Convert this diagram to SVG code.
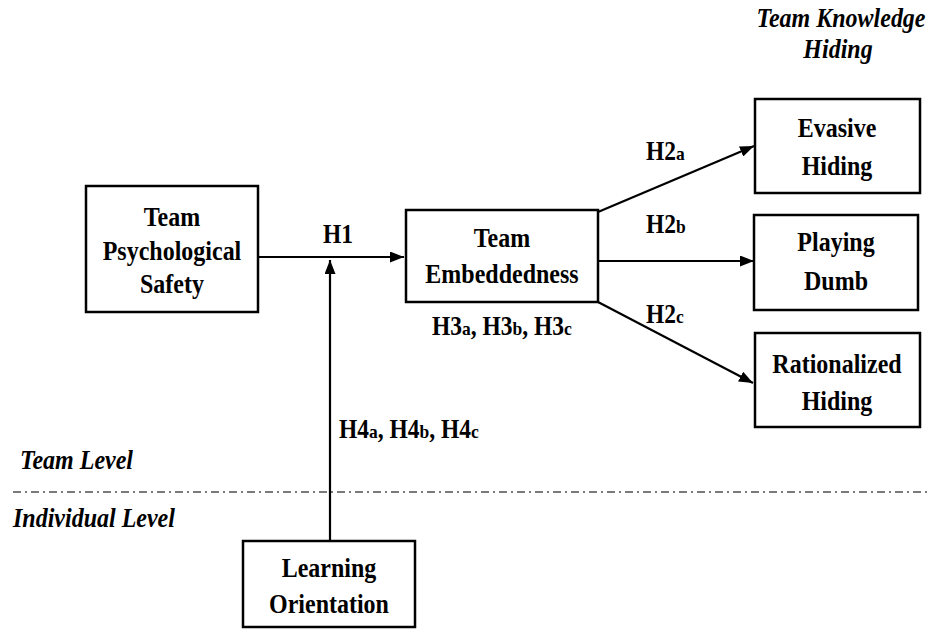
<svg xmlns="http://www.w3.org/2000/svg" width="928" height="636" viewBox="0 0 928 636">
<style>
.box{fill:#fff;stroke:#000;stroke-width:2.5}
.t{font-family:"Liberation Serif","Times New Roman",serif;font-weight:bold;font-size:24px;text-anchor:middle;fill:#000}
.lbl{font-family:"Liberation Serif","Times New Roman",serif;font-weight:bold;font-size:23.5px;fill:#000}
.it{font-family:"Liberation Serif","Times New Roman",serif;font-weight:bold;font-style:italic;font-size:24px;fill:#000}
.sub{font-size:17.5px}
.c{stroke:#000;stroke-width:2.2;fill:none}
</style>
<defs>
<marker id="ah" viewBox="0 0 14 11" refX="14" refY="5.5" markerWidth="14" markerHeight="11" markerUnits="userSpaceOnUse" orient="auto">
<path d="M0,0 L14,5.5 L0,11 z" fill="#000"/>
</marker>
</defs>
<rect width="928" height="636" fill="#fff"/>

<g id="levels">
<line x1="13" y1="492" x2="928" y2="492" stroke="#7a7a7a" stroke-width="2" stroke-dasharray="8 4 2 4"/>
<text class="it" transform="translate(20,469) scale(1,1.12)">Team Level</text>
<text class="it" transform="translate(13,527) scale(1,1.12)">Individual Level</text>
<text class="it" text-anchor="middle" transform="translate(841,27) scale(1,1.12)">Team Knowledge</text>
<text class="it" text-anchor="middle" transform="translate(838,58) scale(1,1.12)">Hiding</text>
</g>

<g id="connectors">
<line class="c" x1="258" y1="257" x2="404" y2="257" marker-end="url(#ah)"/>
<line class="c" x1="330" y1="541" x2="330" y2="260" marker-end="url(#ah)"/>
<line class="c" x1="598" y1="212" x2="754" y2="146" marker-end="url(#ah)"/>
<line class="c" x1="598" y1="261" x2="754" y2="261" marker-end="url(#ah)"/>
<line class="c" x1="598" y1="302" x2="753" y2="383" marker-end="url(#ah)"/>
<text class="lbl" text-anchor="middle" transform="translate(338,243) scale(1,1.12)">H1</text>
<text class="lbl" transform="translate(646,160) scale(1,1.12)">H2<tspan class="sub">a</tspan></text>
<text class="lbl" transform="translate(646,233) scale(1,1.12)">H2<tspan class="sub">b</tspan></text>
<text class="lbl" transform="translate(646,323) scale(1,1.12)">H2<tspan class="sub">c</tspan></text>
<text class="lbl" transform="translate(432,335) scale(1,1.12)">H3<tspan class="sub">a</tspan>, H3<tspan class="sub">b</tspan>, H3<tspan class="sub">c</tspan></text>
<text class="lbl" transform="translate(339,438) scale(1,1.12)">H4<tspan class="sub">a</tspan>, H4<tspan class="sub">b</tspan>, H4<tspan class="sub">c</tspan></text>
</g>

<g id="psych-safety">
<rect class="box" x="86" y="186" width="172" height="126"/>
<text class="t" transform="translate(172,226) scale(1,1.12)">Team</text>
<text class="t" transform="translate(172,260) scale(1,1.12)">Psychological</text>
<text class="t" transform="translate(172,293) scale(1,1.12)">Safety</text>
</g>

<g id="embeddedness">
<rect class="box" x="406" y="210" width="192" height="92"/>
<text class="t" transform="translate(502,247) scale(1,1.12)">Team</text>
<text class="t" transform="translate(502,283) scale(1,1.12)">Embeddedness</text>
</g>

<g id="evasive">
<rect class="box" x="755" y="99" width="165" height="94"/>
<text class="t" transform="translate(837,137) scale(1,1.12)">Evasive</text>
<text class="t" transform="translate(837,175) scale(1,1.12)">Hiding</text>
</g>

<g id="playing-dumb">
<rect class="box" x="754" y="215" width="164" height="95"/>
<text class="t" transform="translate(836,251) scale(1,1.12)">Playing</text>
<text class="t" transform="translate(836,290) scale(1,1.12)">Dumb</text>
</g>

<g id="rationalized">
<rect class="box" x="755" y="333" width="165" height="94"/>
<text class="t" transform="translate(837,373) scale(1,1.12)">Rationalized</text>
<text class="t" transform="translate(837,410) scale(1,1.12)">Hiding</text>
</g>

<g id="learning">
<rect class="box" x="243" y="541" width="172" height="86"/>
<text class="t" transform="translate(329,577) scale(1,1.12)">Learning</text>
<text class="t" transform="translate(329,613) scale(1,1.12)">Orientation</text>
</g>
</svg>
